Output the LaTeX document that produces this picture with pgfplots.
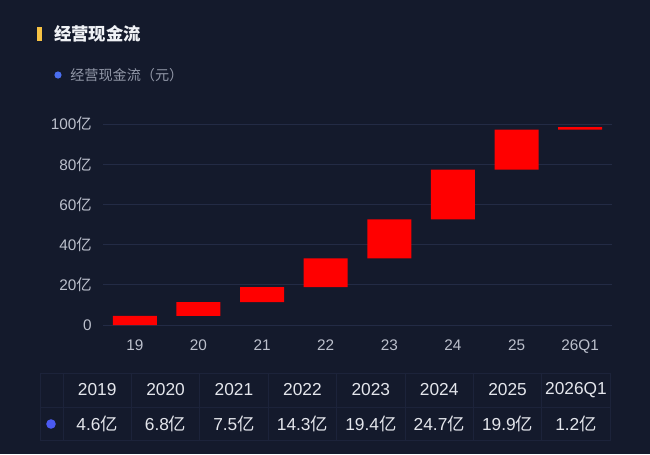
\documentclass[border=0pt]{standalone}
\usepackage{fontspec}
\setmainfont{Liberation Sans}
\newfontfamily\cjk{Noto Sans CJK SC}
\usepackage{pgfplots}
\usepackage{pgfplotstable}
\pgfplotsset{compat=1.18}
\definecolor{bg}{HTML}{141A2C}
\definecolor{gridc}{HTML}{232B45}
\definecolor{tickc}{HTML}{BCC0CC}
\definecolor{titlec}{HTML}{F0F2F6}
\definecolor{accent}{HTML}{F6C244}
\definecolor{legdot}{HTML}{4A6EF0}
\definecolor{legtext}{HTML}{9298A8}
\definecolor{tabline}{HTML}{1C233A}
\definecolor{tabtext}{HTML}{E4E6EC}
\definecolor{tabdot}{HTML}{4B5AF2}
\definecolor{barred}{HTML}{FF0000}
\newcommand{\yi}{{\cjk 亿}}

\pgfplotstableread{
x base delta
0 0 4.6
1 4.6 6.8
2 11.4 7.5
3 18.9 14.3
4 33.2 19.4
5 52.6 24.7
6 77.3 19.9
7 97.2 1.2
}\data

\begin{document}
\begin{tikzpicture}
\begin{scope}[x=0.75pt,y=-0.75pt]
\fill[bg] (0,0) rectangle (650,454);
\fill[accent] (37,27) rectangle (41.5,41);
\node[anchor=west,inner sep=0pt,text=titlec,font=\fontsize{13pt}{15pt}\selectfont\cjk\bfseries] at (54,34) {经营现金流};
\fill[legdot] (58,75) circle (3.6);
\node[anchor=west,inner sep=0pt,text=legtext,font=\fontsize{10.6pt}{12pt}\selectfont\cjk] at (70,75.5) {经营现金流（元）};
% table
\draw[tabline,line width=0.75pt] (40,373) rectangle (610,440);
\draw[tabline,line width=0.75pt] (40,407) -- (610,407);
\foreach \i in {0,...,7} { \draw[tabline, line width=0.75pt] ({63+68.4*\i},373) -- ({63+68.4*\i},440); }
\foreach \yr/\val [count=\i from 0] in {2019/4.6,2020/6.8,2021/7.5,2022/14.3,2023/19.4,2024/24.7,2025/19.9,2026Q1/1.2} {
  \node[text=tabtext,inner sep=0pt,font=\fontsize{13pt}{15pt}\selectfont] at ({63+68.4*(\i+0.5)},390) {\yr};
  \node[text=tabtext,inner sep=0pt,font=\fontsize{13pt}{15pt}\selectfont] at ({63+68.4*(\i+0.5)},424) {\val\yi};
}
\fill[tabdot] (51,424) circle (4.8);
\end{scope}
\begin{axis}[
 at={(77.25pt,-243.75pt)}, anchor=south west,
 scale only axis, width=381.75pt, height=150.75pt,
 xmin=-0.5, xmax=7.5, ymin=0, ymax=100,
 ybar stacked, bar width=33pt,
 axis line style={draw=none},
 major tick length=0pt,
 ymajorgrids, grid style={gridc, line width=0.75pt},
 ytick={0,20,40,60,80,100}, yticklabels={0,20\yi,40\yi,60\yi,80\yi,100\yi},
 xtick={0,...,7}, xticklabels={19,20,21,22,23,24,25,26Q1},
 tick label style={text=tickc, font=\fontsize{11.5pt}{13pt}\selectfont},
 yticklabel style={inner sep=0pt, xshift=-8.25pt, anchor=east},
 xticklabel style={inner sep=0pt, yshift=-11.25pt, anchor=north},
 /pgf/number format/assume math mode=true,
 clip=false,
]
\addplot[fill=none,draw=none] table[x=x,y=base]{\data};
\addplot[fill=barred,draw=none] table[x=x,y=delta]{\data};
\end{axis}
\end{tikzpicture}
\end{document}
